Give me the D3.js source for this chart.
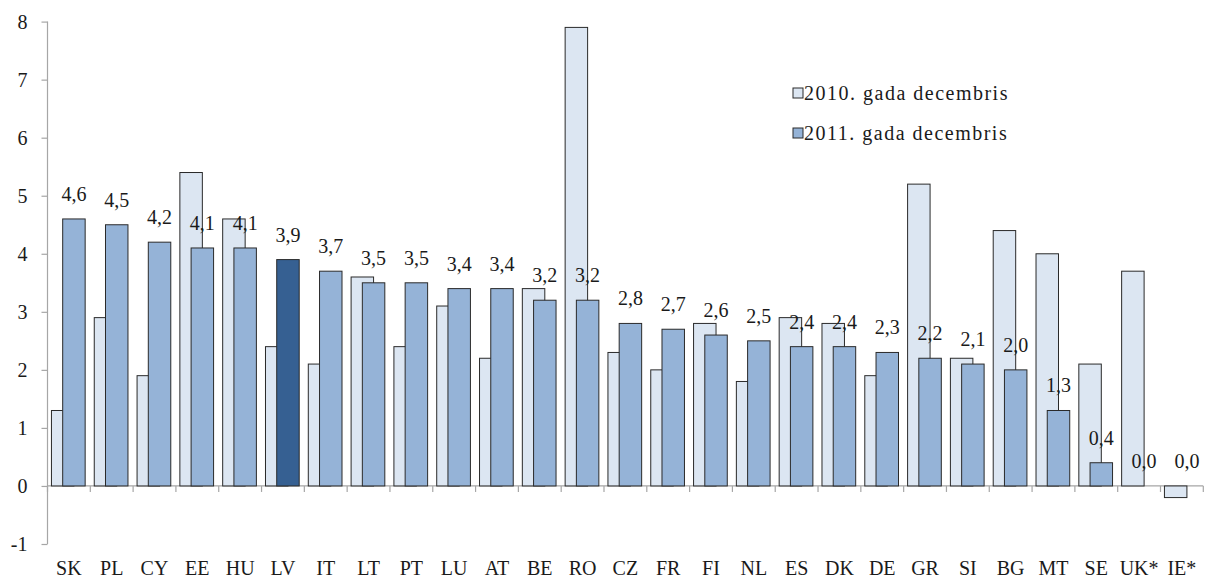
<!DOCTYPE html>
<html>
<head>
<meta charset="utf-8">
<script src="https://cdn.jsdelivr.net/npm/d3@7"></script>
<style>
  html, body { margin: 0; padding: 0; background: #fff; }
  svg { display: block; }
</style>
</head>
<body>
<svg id="chart" width="1208" height="581"></svg>
<script>
const categories = ["SK","PL","CY","EE","HU","LV","IT","LT","PT","LU","AT","BE","RO","CZ","FR","FI","NL","ES","DK","DE","GR","SI","BG","MT","SE","UK*","IE*"];
const values2010 = [1.3,2.9,1.9,5.4,4.6,2.4,2.1,3.6,2.4,3.1,2.2,3.4,7.9,2.3,2.0,2.8,1.8,2.9,2.8,1.9,5.2,2.2,4.4,4.0,2.1,3.7,-0.2];
const values2011 = [4.6,4.5,4.2,4.1,4.1,3.9,3.7,3.5,3.5,3.4,3.4,3.2,3.2,2.8,2.7,2.6,2.5,2.4,2.4,2.3,2.2,2.1,2.0,1.3,0.4,0.0,0.0];
const seriesNames = ["2010. gada decembris","2011. gada decembris"];
const yTicks = [-1,0,1,2,3,4,5,6,7,8];
const highlight = "LV";

const FONT = '"Liberation Serif"';
const TXT = "#1a1a1a";
const colLight = "#dce6f2", colMid = "#95b3d7", colDark = "#366092";
const strokeCol = "#2a2a2a";
const axisCol = "#a6a6a6";

const svg = d3.select("#chart");
const mLeft = 47.5, mRight = 1203.3, mTop = 21.6, mBottom = 544;

const x = d3.scaleBand().domain(categories).range([mLeft, mRight]).padding(0);
const y = d3.scaleLinear().domain([-1, 8]).range([mBottom, mTop]);
const bw = x.bandwidth();
const w = bw * 0.525;
const off = (bw - 1.5 * w) / 2 - 0.6;

// y axis
const yAxis = svg.append("g").attr("transform", `translate(${mLeft},0)`)
  .call(d3.axisLeft(y).tickValues(yTicks).tickSize(6).tickPadding(14).tickFormat(d => String(d)));
yAxis.attr("font-family", "Liberation Serif").attr("font-size", 20);
yAxis.select(".domain").attr("stroke", axisCol).attr("stroke-width", 1.2)
  .attr("d", `M0,${y(8)}V${y(-1)}`);
yAxis.selectAll(".tick line").attr("stroke", axisCol).attr("stroke-width", 1.2);
yAxis.selectAll(".tick text").style("font-family", FONT).style("font-size", "20px")
  .attr("fill", TXT).attr("dy", "0.34em");

// x axis at zero
const xAxisG = svg.append("g").attr("transform", `translate(0,${y(0)})`);
xAxisG.append("line").attr("x1", mLeft).attr("x2", mRight).attr("y1", 0).attr("y2", 0)
  .attr("stroke", axisCol).attr("stroke-width", 1.2);
const boundaries = categories.map(c => x(c)).concat([mRight]);
xAxisG.selectAll("line.tk").data(boundaries).enter().append("line").attr("class", "tk")
  .attr("x1", d => d).attr("x2", d => d).attr("y1", 0).attr("y2", 6)
  .attr("stroke", axisCol).attr("stroke-width", 1.2);

// category labels
svg.append("g").selectAll("text").data(categories).enter().append("text")
  .attr("x", d => x(d) + bw / 2).attr("y", 575)
  .attr("text-anchor", "middle")
  .attr("font-family", "Liberation Serif")
  .style("font-family", FONT).style("font-size", "20px").attr("fill", TXT)
  .text(d => d);

// bars 2010
svg.append("g").selectAll("rect").data(categories).enter().append("rect")
  .attr("x", d => x(d) + off)
  .attr("width", w)
  .attr("y", (d, i) => y(Math.max(0, values2010[i])))
  .attr("height", (d, i) => Math.abs(y(values2010[i]) - y(0)))
  .attr("fill", colLight).attr("stroke", strokeCol).attr("stroke-width", 1);

// bars 2011
svg.append("g").selectAll("rect").data(categories).enter().append("rect")
  .attr("x", d => x(d) + off + w / 2)
  .attr("width", w)
  .attr("y", (d, i) => y(Math.max(0, values2011[i])))
  .attr("height", (d, i) => Math.abs(y(values2011[i]) - y(0)))
  .attr("fill", d => d === highlight ? colDark : colMid)
  .attr("stroke", strokeCol).attr("stroke-width", 1);

// value labels 2011
const fmt = v => d3.format(".1f")(v).replace(".", ",");
svg.append("g").selectAll("text").data(categories).enter().append("text")
  .attr("x", d => x(d) + off + w)
  .attr("y", (d, i) => y(Math.max(0, values2011[i])) - 18)
  .attr("text-anchor", "middle")
  .attr("font-family", "Liberation Serif")
  .style("font-family", FONT).style("font-size", "20px").attr("fill", TXT)
  .text((d, i) => fmt(values2011[i]));

// legend
const legend = svg.append("g");
const legendItems = [{name: seriesNames[0], color: colLight, yc: 93}, {name: seriesNames[1], color: colMid, yc: 133}];
legendItems.forEach(it => {
  legend.append("rect").attr("x", 793).attr("y", it.yc - 5).attr("width", 10).attr("height", 10)
    .attr("fill", it.color).attr("stroke", strokeCol).attr("stroke-width", 1);
  legend.append("text").attr("x", 804).attr("y", it.yc + 6.5)
    .attr("font-family", "Liberation Serif")
    .style("font-family", FONT).style("font-size", "20px").style("letter-spacing", "1.5px")
    .attr("fill", TXT).text(it.name);
});
</script>
</body>
</html>
